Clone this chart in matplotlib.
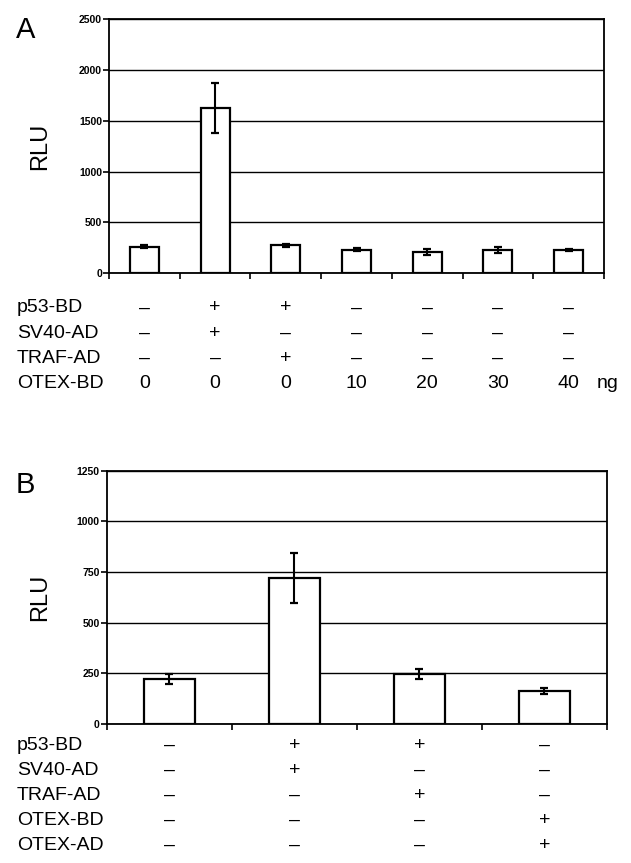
import matplotlib
matplotlib.use('Agg')
import matplotlib.pyplot as plt
import matplotlib.transforms as mtransforms
import numpy as np

plt.rcParams['font.family'] = ['Liberation Sans', 'DejaVu Sans']

W, H = 631, 863

# panel A data
rlu_a = [262, 1625, 275, 232, 209, 229, 229]
err_a = [15, 245, 12, 15, 25, 25, 12]
rows_a = ['p53-BD', 'SV40-AD', 'TRAF-AD', 'OTEX-BD']
signs_a = [
    ['–', '+', '+', '–', '–', '–', '–'],
    ['–', '+', '–', '–', '–', '–', '–'],
    ['–', '–', '+', '–', '–', '–', '–'],
    ['0', '0', '0', '10', '20', '30', '40'],
]

# panel B data
rlu_b = [222, 720, 246, 162]
err_b = [25, 123, 25, 14]
rows_b = ['p53-BD', 'SV40-AD', 'TRAF-AD', 'OTEX-BD', 'OTEX-AD']
signs_b = [
    ['–', '+', '+', '–'],
    ['–', '+', '–', '–'],
    ['–', '–', '+', '–'],
    ['–', '–', '–', '+'],
    ['–', '–', '–', '+'],
]


def fy(ypix):
    return 1 - ypix / H


def panel(fig, rect, vals, errs, ymax, step, letter, letter_y, rows, signs, row_y):
    ax = fig.add_axes(rect)
    n = len(vals)
    x = np.arange(n) + 0.5
    ax.bar(x, vals, width=0.41, color='white', edgecolor='black', linewidth=1.6,
           yerr=errs, capsize=2.8, error_kw=dict(elinewidth=1.5, capthick=1.6, ecolor='black'),
           zorder=3)
    ax.set_xlim(0, n)
    ax.set_ylim(0, ymax)
    ax.set_xticks(np.arange(n + 1))
    ax.set_xticklabels([])
    ax.set_yticks(np.arange(0, ymax + 1, step))
    ax.tick_params(axis='x', direction='out', length=4, width=1.2)
    ax.tick_params(axis='y', direction='out', length=4, width=1.2, labelsize=7.5, pad=1)
    for lab in ax.get_yticklabels():
        lab.set_fontweight('bold')
    ax.yaxis.grid(True, color='black', linewidth=1)
    ax.set_axisbelow(True)
    for s in ax.spines.values():
        s.set_linewidth(1.3)
    fig.text(16 / W, fy(letter_y), letter, fontsize=21, va='top', ha='left')
    fig.text(40 / W, rect[1] + rect[3] / 2, 'RLU', fontsize=17, rotation=90,
             va='center', ha='center')
    tr = mtransforms.blended_transform_factory(ax.transData, fig.transFigure)
    for r, (name, row) in enumerate(zip(rows, signs)):
        y = fy(row_y[r])
        fig.text(17 / W, y, name, fontsize=14, va='center', ha='left')
        for i, s in enumerate(row):
            ax.text(x[i], y, s, transform=tr, fontsize=14, va='center', ha='center')
    return ax


fig = plt.figure(figsize=(W / 100, H / 100), dpi=100)

ax_a = panel(fig, [109 / W, fy(273.3), 495 / W, 254.3 / H], rlu_a, err_a, 2500, 500,
             'A', 16, rows_a, signs_a, [308, 333, 358, 383])
fig.text(597 / W, fy(383), 'ng', fontsize=14, va='center', ha='left')

ax_b = panel(fig, [106.7 / W, fy(724), 500.3 / W, 253.3 / H], rlu_b, err_b, 1250, 250,
             'B', 471, rows_b, signs_b, [745, 770, 795, 820, 845])

fig.savefig('out.png', dpi=100)
